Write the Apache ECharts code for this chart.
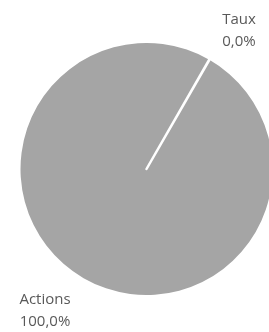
<!DOCTYPE html>
<html>
<head>
<meta charset="utf-8">
<script src="https://cdn.jsdelivr.net/npm/echarts@6/dist/echarts.min.js"></script>
<style>
html,body{margin:0;padding:0;background:#fff;}
#div_pie{width:269px;height:332px;}
</style>
</head>
<body>
<div id="div_pie"></div>
<script>
// données du graphique
var categories = ['Actions', 'Taux'];
var values = [100, 0];
// position des étiquettes (centre du bloc de texte)
var labelPos = [[45, 311], [239, 31]];

var total = 0;
for (var i = 0; i < values.length; i++) { total += values[i]; }

var pieData = [];
for (var i = 0; i < categories.length; i++) {
	var item = { name: categories[i], value: values[i] };
	if (values[i] == 0) {
		// tranche vide : seul son bord blanc est visible
		item.itemStyle = { color: '#ffffff', borderColor: '#ffffff', borderWidth: 2.5 };
	}
	pieData.push(item);
}

var option = {
	animation: false,
	color: ['#A5A5A5', '#A5A5A5'],
	series: [
		{
			type: 'pie',
			center: [146.5, 169],
			radius: 126,
			startAngle: 60.05,
			clockwise: true,
			minAngle: 0.1,
			avoidLabelOverlap: false,
			itemStyle: { borderWidth: 0 },
			label: {
				show: true,
				position: 'outside',
				color: '#595959',
				fontFamily: 'Open Sans',
				fontSize: 15,
				lineHeight: 22,
				align: 'center',
				formatter: function (p) {
					var pct = (p.value / total * 100).toFixed(1).replace('.', ',');
					return p.name + '\n' + pct + '%';
				}
			},
			labelLine: { show: false },
			labelLayout: function (params) {
				var pos = labelPos[params.dataIndex];
				return { x: pos[0], y: pos[1], align: 'center', verticalAlign: 'middle' };
			},
			emphasis: { disabled: true },
			data: pieData
		}
	]
};

var myChart = echarts.init(document.getElementById('div_pie'));
myChart.setOption(option);
</script>
</body>
</html>
